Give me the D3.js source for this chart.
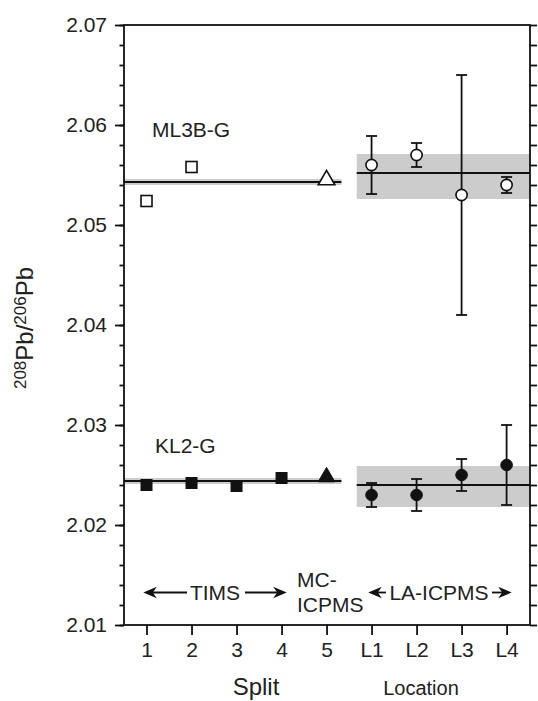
<!DOCTYPE html>
<html>
<head>
<meta charset="utf-8">
<script src="https://cdn.jsdelivr.net/npm/d3@7"></script>
<style>
  html, body { margin: 0; padding: 0; background: #fff; }
  svg { display: block; font-family: "Liberation Sans", Arial, Helvetica, sans-serif; }
</style>
</head>
<body>
<svg id="chart" width="538" height="701"></svg>
<script>
// x positions: splits 1-5, then laser locations L1-L4
const categories = ["1", "2", "3", "4", "5", "L1", "L2", "L3", "L4"];

// ML3B-G glass
const ml3bTimsSplits = [1, 2];
const ml3bTimsValues = [2.0524, 2.0558];
const ml3bMcSplit = 5;
const ml3bMcValue = 2.0545;
const ml3bTimsMean = 2.0543;
const ml3bTimsBand = [2.0540, 2.0546];
const ml3bLaValues = [2.056, 2.057, 2.053, 2.054];
const ml3bLaErrors = [0.0029, 0.0012, 0.012, 0.0008];
const ml3bLaMean = 2.0552;
const ml3bLaBand = [2.0526, 2.0571];

// KL2-G glass
const kl2TimsSplits = [1, 2, 3, 4];
const kl2TimsValues = [2.0240, 2.0242, 2.0239, 2.0247];
const kl2McSplit = 5;
const kl2McValue = 2.0248;
const kl2TimsMean = 2.0244;
const kl2TimsBand = [2.0241, 2.0247];
const kl2LaValues = [2.023, 2.023, 2.025, 2.026];
const kl2LaErrors = [0.0012, 0.0016, 0.0016, 0.004];
const kl2LaMean = 2.0240;
const kl2LaBand = [2.0218, 2.0259];

// axis ticks
const yMajorTicks = [2.01, 2.02, 2.03, 2.04, 2.05, 2.06, 2.07];
const yMinorTicks = d3.range(0, 31).map(i => +(2.01 + i * 0.002).toFixed(3));

// horizontal spans of the reference lines (in category units)
const timsSpan = [0.5, 5.33];
const laSpan = [5.67, 9.52];

const W = 538, H = 701;
const margin = { top: 25, right: 8, bottom: 76, left: 124 };
const svg = d3.select("#chart");

const x = d3.scaleLinear().domain([0.5, 9.52]).range([margin.left, W - margin.right]);
const y = d3.scaleLinear().domain([2.01, 2.07]).range([H - margin.bottom, margin.top]);
const laX = i => 6 + i;

const ink = "#111";
const sw = 1.8;

// ---- shaded bands and mean lines ----
function band(span, b) {
  svg.append("rect")
    .attr("x", x(span[0])).attr("width", x(span[1]) - x(span[0]))
    .attr("y", y(b[1])).attr("height", y(b[0]) - y(b[1]))
    .attr("fill", "#cccccc");
}
function meanLine(span, v) {
  svg.append("line")
    .attr("x1", x(span[0])).attr("x2", x(span[1]))
    .attr("y1", y(v)).attr("y2", y(v))
    .attr("stroke", ink).attr("stroke-width", sw);
}
band(timsSpan, ml3bTimsBand);
band(laSpan, ml3bLaBand);
band(timsSpan, kl2TimsBand);
band(laSpan, kl2LaBand);
meanLine(timsSpan, ml3bTimsMean);
meanLine(laSpan, ml3bLaMean);
meanLine(timsSpan, kl2TimsMean);
meanLine(laSpan, kl2LaMean);

// ---- error bars ----
function errorBars(values, errors) {
  const g = svg.append("g").attr("stroke", ink).attr("stroke-width", sw);
  values.forEach((v, i) => {
    const cx = x(laX(i)), lo = y(v - errors[i]), hi = y(v + errors[i]);
    g.append("line").attr("x1", cx).attr("x2", cx).attr("y1", lo).attr("y2", hi);
    g.append("line").attr("x1", cx - 5.5).attr("x2", cx + 5.5).attr("y1", lo).attr("y2", lo);
    g.append("line").attr("x1", cx - 5.5).attr("x2", cx + 5.5).attr("y1", hi).attr("y2", hi);
  });
}
errorBars(ml3bLaValues, ml3bLaErrors);
errorBars(kl2LaValues, kl2LaErrors);

// ---- markers ----
const sq = 11;
function squares(splits, values, filled) {
  svg.append("g").selectAll("rect").data(values).join("rect")
    .attr("x", (d, i) => x(splits[i]) - sq / 2)
    .attr("y", d => y(d) - sq / 2)
    .attr("width", sq).attr("height", sq)
    .attr("fill", filled ? ink : "#fff")
    .attr("stroke", ink).attr("stroke-width", filled ? 1 : 1.6);
}
function triangle(split, value, filled) {
  svg.append("path")
    .attr("d", d3.symbol(d3.symbolTriangle, 120)())
    .attr("transform", `translate(${x(split)},${y(value)})`)
    .attr("fill", filled ? ink : "#fff")
    .attr("stroke", ink).attr("stroke-width", filled ? 1 : 1.6);
}
function circles(values, filled) {
  svg.append("g").selectAll("circle").data(values).join("circle")
    .attr("cx", (d, i) => x(laX(i)))
    .attr("cy", d => y(d))
    .attr("r", filled ? 5.8 : 5.6)
    .attr("fill", filled ? ink : "#fff")
    .attr("stroke", ink).attr("stroke-width", filled ? 1 : 1.6);
}
squares(ml3bTimsSplits, ml3bTimsValues, false);
triangle(ml3bMcSplit, ml3bMcValue, false);
circles(ml3bLaValues, false);
squares(kl2TimsSplits, kl2TimsValues, true);
triangle(kl2McSplit, kl2McValue, true);
circles(kl2LaValues, true);

// ---- axes ----
const fontSize = 21;
const axisStyle = g => {
  g.select(".domain").remove();
  g.selectAll("line").attr("stroke", ink).attr("stroke-width", sw);
  g.selectAll("text").attr("fill", "#222").style("font-size", fontSize + "px")
    .style("font-family", '"Liberation Sans", Arial, sans-serif');
};

// left: minor ticks, then labelled majors
svg.append("g").attr("transform", `translate(${margin.left},0)`)
  .call(d3.axisLeft(y).tickValues(yMinorTicks).tickSize(4.5).tickFormat(""))
  .call(axisStyle);
svg.append("g").attr("transform", `translate(${margin.left},0)`)
  .call(d3.axisLeft(y).tickValues(yMajorTicks).tickSize(9).tickPadding(8).tickFormat(d3.format(".2f")))
  .call(axisStyle);

// right: outward minor ticks only
svg.append("g").attr("transform", `translate(${W - margin.right},0)`)
  .call(d3.axisRight(y).tickValues(yMinorTicks).tickSize(7).tickFormat(""))
  .call(axisStyle);

// bottom
svg.append("g").attr("transform", `translate(0,${H - margin.bottom})`)
  .call(d3.axisBottom(x).tickValues(d3.range(1, 10)).tickSize(10).tickPadding(7)
    .tickFormat(d => categories[d - 1]))
  .call(axisStyle);

// frame
svg.append("rect")
  .attr("x", margin.left).attr("y", margin.top)
  .attr("width", W - margin.right - margin.left)
  .attr("height", H - margin.bottom - margin.top)
  .attr("fill", "none").attr("stroke", ink).attr("stroke-width", sw);

// ---- labels ----
const txt = (s, tx, ty, size, anchor) => svg.append("text")
  .attr("x", tx).attr("y", ty).attr("text-anchor", anchor || "start")
  .attr("fill", "#222").style("font-size", size + "px").text(s);

txt("ML3B-G", 152, 137, 21);
txt("KL2-G", 155, 453, 21);
txt("Split", 256, 695, 24, "middle");
txt("Location", 421, 695, 20, "middle");
txt("MC-", 297, 587, 21);
txt("ICPMS", 297, 612, 21);
txt("TIMS", 215, 600, 21, "middle");
txt("LA-ICPMS", 439, 600, 21, "middle");

// arrows with notched heads
const arrowY = 592.5;
function arrowHead(tipX, dir) {
  const p = d3.path();
  p.moveTo(tipX, arrowY);
  p.lineTo(tipX - dir * 13.5, arrowY - 5.8);
  p.lineTo(tipX - dir * 9.5, arrowY);
  p.lineTo(tipX - dir * 13.5, arrowY + 5.8);
  p.closePath();
  svg.append("path").attr("d", p.toString()).attr("fill", ink);
}
function shaft(x1, x2) {
  svg.append("line").attr("x1", x1).attr("x2", x2)
    .attr("y1", arrowY).attr("y2", arrowY)
    .attr("stroke", ink).attr("stroke-width", sw);
}
shaft(147, 187); arrowHead(143.3, -1);
shaft(245, 282); arrowHead(286.7, 1);
shaft(376, 386); arrowHead(368.3, -1);
shaft(492, 506); arrowHead(511.7, 1);

// y axis title: 208Pb/206Pb
const yt = svg.append("text")
  .attr("transform", "translate(33,328) rotate(-90)")
  .attr("text-anchor", "middle")
  .attr("fill", "#222").style("font-size", "24px");
yt.append("tspan").attr("dy", "-7").style("font-size", "17px").text("208");
yt.append("tspan").attr("dy", "7").text("Pb/");
yt.append("tspan").attr("dy", "-7").style("font-size", "17px").text("206");
yt.append("tspan").attr("dy", "7").text("Pb");
</script>
</body>
</html>
